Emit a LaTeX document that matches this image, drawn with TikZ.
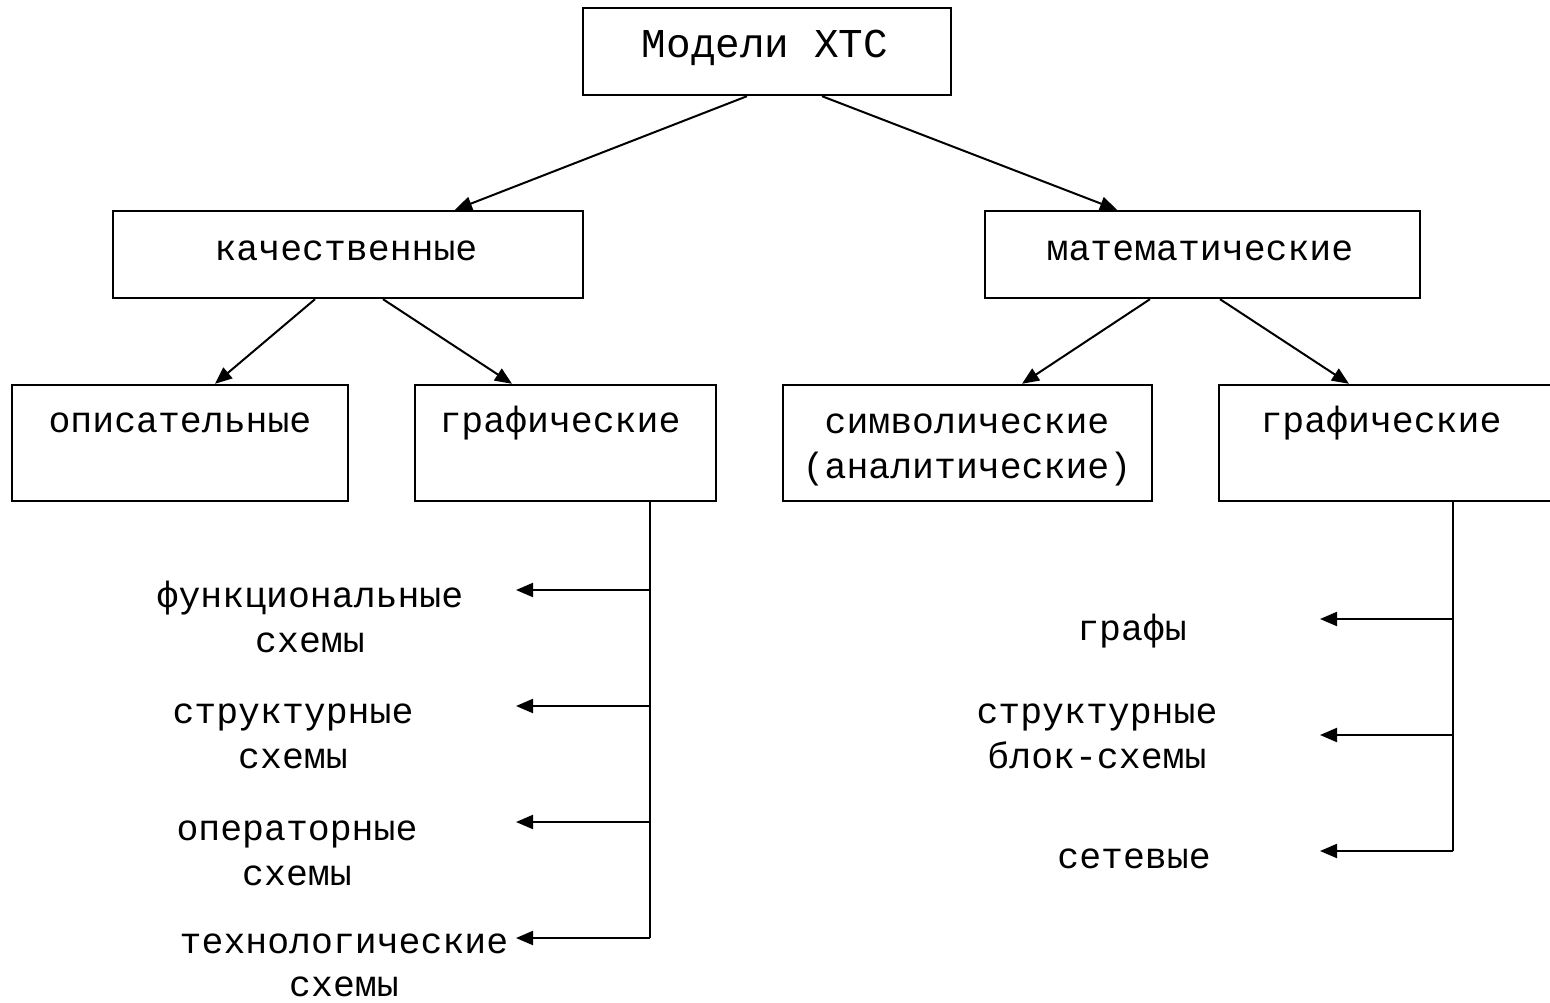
\documentclass[tikz,border=0pt]{standalone}
\usepackage{fontspec}
\setmonofont{Liberation Mono}
\usetikzlibrary{arrows.meta,calc}
\begin{document}
\begin{tikzpicture}[x=1pt,y=-1pt,
  box/.style={draw=black,line width=2.4pt,rectangle,inner sep=0pt,fill=white},
  txt/.style={font=\ttfamily\fontsize{36.5}{45}\selectfont,anchor=base,align=center,inner sep=0pt,text=black},
  conn/.style={line width=2pt,-{Triangle[length=17pt,width=14pt]}},
  plain/.style={line width=2.2pt}]
\useasboundingbox (0,0) rectangle (1550,1003);
\fill[white] (0,0) rectangle (1550,1003);
\begin{scope}
\clip (0,0) rectangle (1550,1003);
% boxes
\node[box,minimum width=368pt,minimum height=87pt] (top) at (767,51.5) {};
\node[box,minimum width=470pt,minimum height=87pt] (kach) at (348,254.5) {};
\node[box,minimum width=435pt,minimum height=87pt] (mat) at (1202.5,254.5) {};
\node[box,minimum width=336pt,minimum height=116pt] (op) at (180,443) {};
\node[box,minimum width=301pt,minimum height=116pt] (grL) at (565.5,443) {};
\node[box,minimum width=369pt,minimum height=116pt] (sym) at (967.5,443) {};
\node[box,minimum width=340pt,minimum height=116pt] (grR) at (1389,443) {};
% box texts
\node[txt,font=\ttfamily\fontsize{41}{48}\selectfont] (tTop) at (765,58) {Модели ХТС};
\node[txt] (tKach) at (346,260) {качественные};
\node[txt] (tMat) at (1200,260) {математические};
\node[txt] (tOp) at (180,432) {описательные};
\node[txt] (tGrL) at (560,432) {графические};
\node[txt] (tSym) at (967,478) {символические\\(аналитические)};
\node[txt] (tGrR) at (1381,432) {графические};
% tree connectors
\draw[conn] ([xshift=-20pt]top.south) -- ([xshift=107pt]kach.north);
\draw[conn] ([xshift=55pt]top.south) -- ([xshift=-85.5pt]mat.north);
\draw[conn] ([xshift=-33pt]kach.south) -- ([xshift=35pt]op.north);
\draw[conn] ([xshift=35pt]kach.south) -- ([xshift=-53.5pt]grL.north);
\draw[conn] ([xshift=-52.5pt]mat.south) -- ([xshift=54.5pt]sym.north);
\draw[conn] ([xshift=17.5pt]mat.south) -- ([xshift=-40pt]grR.north);
% left list
\coordinate (L0) at ($(grL.south)+(84.5,0)$);
\coordinate (L1) at (650,590);
\coordinate (L2) at (650,706);
\coordinate (L3) at (650,822);
\coordinate (L4) at (650,938);
\coordinate (La1) at (516,590);
\coordinate (La2) at (516,706);
\coordinate (La3) at (516,822);
\coordinate (La4) at (516,938);
\draw[plain] (L0) -- (L4);
\draw[conn] (L1) -- (La1);
\draw[conn] (L2) -- (La2);
\draw[conn] (L3) -- (La3);
\draw[conn] (L4) -- (La4);
\node[txt] (f1) at (310,652) {функциональные\\схемы};
\node[txt] (f2) at (293,768) {структурные\\схемы};
\node[txt] (f3) at (297,885) {операторные\\схемы};
\node[txt,font=\ttfamily\fontsize{36.5}{43}\selectfont] (f4) at (344,996) {технологические\\схемы};
% right list
\coordinate (R0) at ($(grR.south)+(64,0)$);
\coordinate (R1) at (1453,619);
\coordinate (R2) at (1453,735);
\coordinate (R3) at (1453,851);
\coordinate (Ra1) at (1320,619);
\coordinate (Ra2) at (1320,735);
\coordinate (Ra3) at (1320,851);
\draw[plain] (R0) -- (R3);
\draw[conn] (R1) -- (Ra1);
\draw[conn] (R2) -- (Ra2);
\draw[conn] (R3) -- (Ra3);
\node[txt] (g1) at (1132,640) {графы};
\node[txt] (g2) at (1097,768) {структурные\\блок-схемы};
\node[txt] (g3) at (1134,868) {сетевые};
\end{scope}
\end{tikzpicture}
\end{document}
